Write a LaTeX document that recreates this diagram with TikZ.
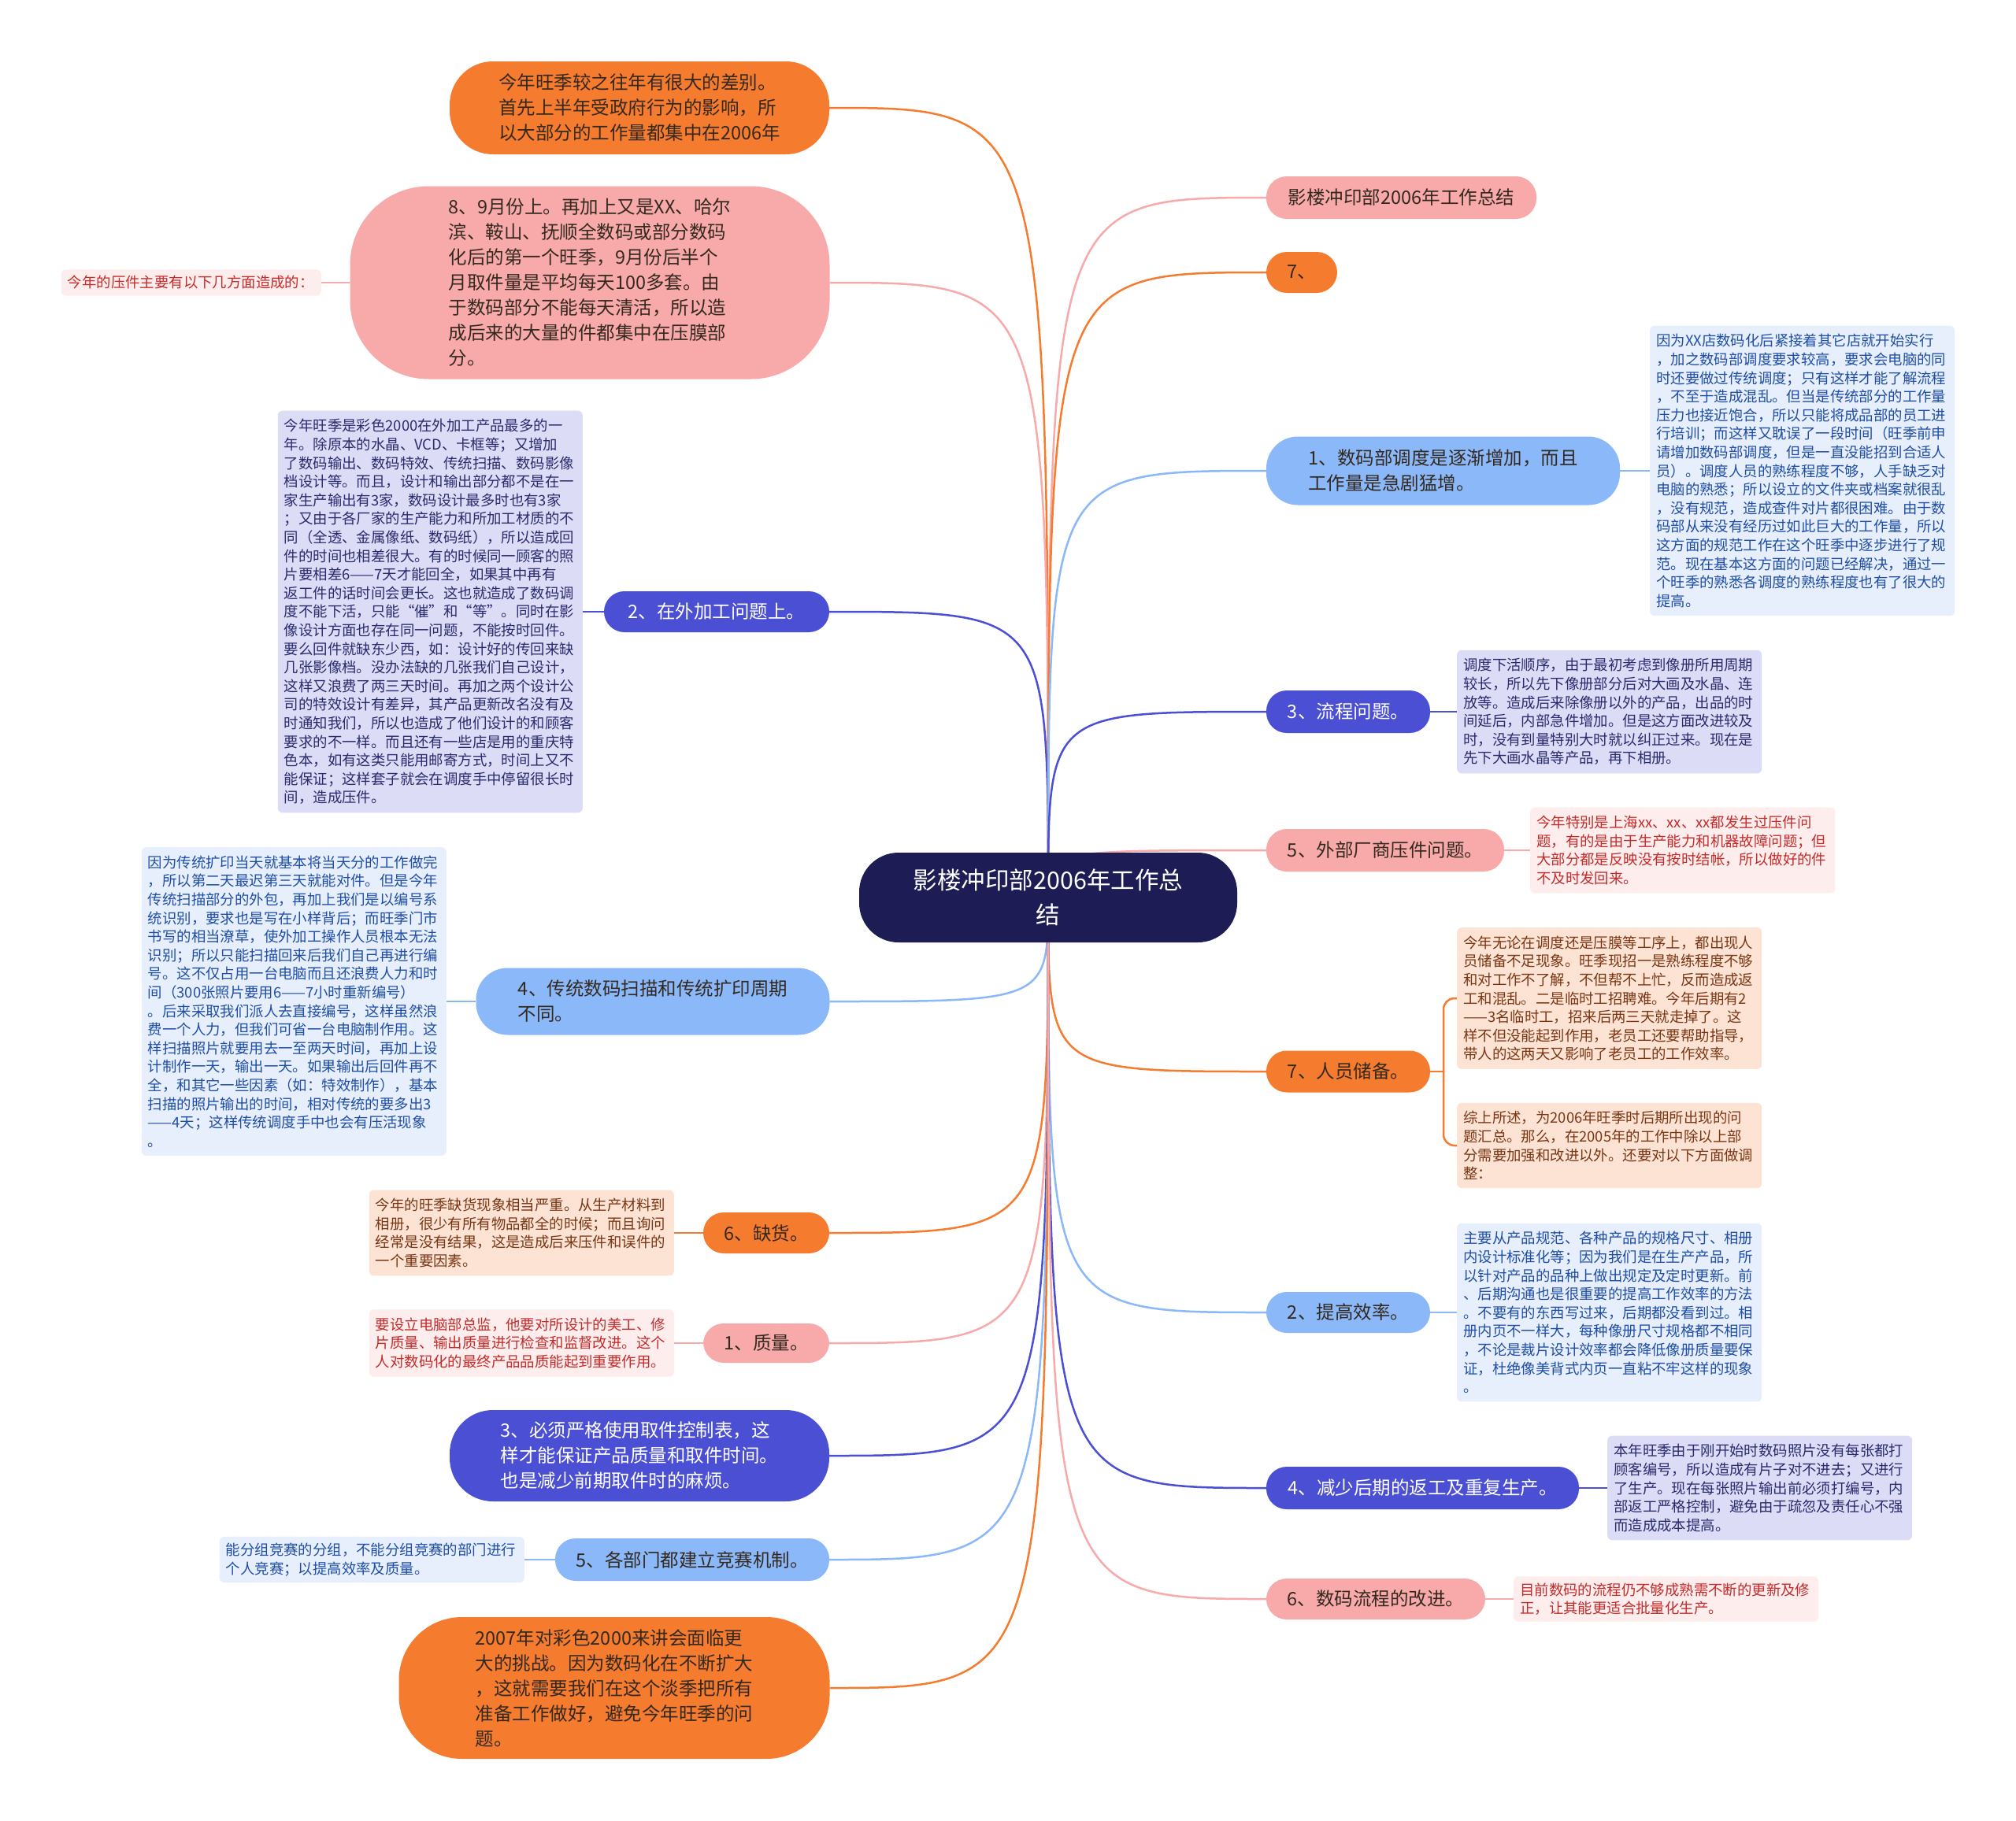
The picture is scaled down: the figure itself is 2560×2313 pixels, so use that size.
\documentclass[tikz,border=0pt]{standalone}
\usepackage{fontspec}
\setmainfont{Noto Sans CJK SC}
\usetikzlibrary{backgrounds}
\definecolor{rootc}{HTML}{1D1C55}
\definecolor{orangec}{HTML}{F57B2E}
\definecolor{pinkc}{HTML}{F8A9A9}
\definecolor{indigoc}{HTML}{4A4FD4}
\definecolor{bluec}{HTML}{8BB8F8}
\definecolor{bluefill}{HTML}{E7EFFD}
\definecolor{bluetext}{HTML}{1F4EA6}
\definecolor{lavfill}{HTML}{DCDCF6}
\definecolor{lavtext}{HTML}{2A2A6E}
\definecolor{peachfill}{HTML}{FDE3D3}
\definecolor{peachtext}{HTML}{7A3614}
\definecolor{rosefill}{HTML}{FDEDEC}
\definecolor{rosetext}{HTML}{C42B2B}
\definecolor{darktext}{HTML}{33291F}
\begin{document}
\begin{tikzpicture}[x=1pt,y=-1pt,
  topic/.style={rounded corners=26pt,inner sep=0pt,align=left,font=\fontsize{23.5}{32}\selectfont},
  otopic/.style={topic,fill=orangec,text=darktext},
  ptopic/.style={topic,fill=pinkc,text=darktext},
  itopic/.style={topic,fill=indigoc,text=white},
  btopic/.style={topic,fill=bluec,text=darktext},
  note/.style={rounded corners=6pt,inner xsep=8pt,inner ysep=10.5pt,text width=371pt,align=left,font=\fontsize{18.4}{23.6}\selectfont},
  bnote/.style={note,fill=bluefill,text=bluetext},
  lnote/.style={note,fill=lavfill,text=lavtext},
  fnote/.style={note,fill=peachfill,text=peachtext},
  rnote/.style={note,fill=rosefill,text=rosetext},
  link/.style={line width=2.5pt},
  olink/.style={link,orangec},
  plink/.style={link,pinkc},
  ilink/.style={link,indigoc},
  blink/.style={link,bluec}]
\useasboundingbox (0,0) rectangle (2560,2313);
% centre
\node[fill=rootc,text=white,rounded corners=50pt,minimum width=480pt,minimum height=114pt,align=center,font=\fontsize{30.5}{44}\selectfont] (root) at (1331,1140) {影楼冲印部2006年工作总\\结};
% left side
\node[otopic,rounded corners=55pt,minimum width=482pt,minimum height=118pt] (l1) at (812,137) {今年旺季较之往年有很大的差别。\\首先上半年受政府行为的影响，所\\以大部分的工作量都集中在2006年};
\node[ptopic,rounded corners=100pt,minimum width=609pt,minimum height=245pt] (l2) at (749,359) {8、9月份上。再加上又是XX、哈尔\\滨、鞍山、抚顺全数码或部分数码\\化后的第一个旺季，9月份后半个\\月取件量是平均每天100多套。由\\于数码部分不能每天清活，所以造\\成后来的大量的件都集中在压膜部\\分。};
\node[rnote,text width=314pt,inner ysep=8pt,anchor=east] (l2n) at (408,359) {今年的压件主要有以下几方面造成的：};
\node[itopic,minimum width=286pt,minimum height=52pt] (l3) at (910,777) {2、在外加工问题上。};
\node[lnote,anchor=east] (l3n) at (740,777) {今年旺季是彩色2000在外加工产品最多的一\\年。除原本的水晶、VCD、卡框等；又增加\\了数码输出、数码特效、传统扫描、数码影像\\档设计等。而且，设计和输出部分都不是在一\\家生产输出有3家，数码设计最多时也有3家\\；又由于各厂家的生产能力和所加工材质的不\\同（全透、金属像纸、数码纸），所以造成回\\件的时间也相差很大。有的时候同一顾客的照\\片要相差6——7天才能回全，如果其中再有\\返工件的话时间会更长。这也就造成了数码调\\度不能下活，只能“催”和“等”。同时在影\\像设计方面也存在同一问题，不能按时回件。\\要么回件就缺东少西，如：设计好的传回来缺\\几张影像档。没办法缺的几张我们自己设计，\\这样又浪费了两三天时间。再加之两个设计公\\司的特效设计有差异，其产品更新改名没有及\\时通知我们，所以也造成了他们设计的和顾客\\要求的不一样。而且还有一些店是用的重庆特\\色本，如有这类只能用邮寄方式，时间上又不\\能保证；这样套子就会在调度手中停留很长时\\间，造成压件。};
\node[btopic,rounded corners=40pt,minimum width=449pt,minimum height=85pt] (l4) at (829,1272) {4、传统数码扫描和传统扩印周期\\不同。};
\node[bnote,anchor=east] (l4n) at (567,1272) {因为传统扩印当天就基本将当天分的工作做完\\，所以第二天最迟第三天就能对件。但是今年\\传统扫描部分的外包，再加上我们是以编号系\\统识别，要求也是写在小样背后；而旺季门市\\书写的相当潦草，使外加工操作人员根本无法\\识别；所以只能扫描回来后我们自己再进行编\\号。这不仅占用一台电脑而且还浪费人力和时\\间（300张照片要用6——7小时重新编号）\\。后来采取我们派人去直接编号，这样虽然浪\\费一个人力，但我们可省一台电脑制作用。这\\样扫描照片就要用去一至两天时间，再加上设\\计制作一天，输出一天。如果输出后回件再不\\全，和其它一些因素（如：特效制作），基本\\扫描的照片输出的时间，相对传统的要多出3\\——4天；这样传统调度手中也会有压活现象\\。};
\node[otopic,minimum width=160pt,minimum height=52pt] (l5) at (973,1566) {6、缺货。};
\node[fnote,anchor=east] (l5n) at (856,1566) {今年的旺季缺货现象相当严重。从生产材料到\\相册，很少有所有物品都全的时候；而且询问\\经常是没有结果，这是造成后来压件和误件的\\一个重要因素。};
\node[ptopic,minimum width=160pt,minimum height=50pt] (l6) at (973,1706) {1、质量。};
\node[rnote,anchor=east] (l6n) at (856,1706) {要设立电脑部总监，他要对所设计的美工、修\\片质量、输出质量进行检查和监督改进。这个\\人对数码化的最终产品品质能起到重要作用。};
\node[itopic,rounded corners=55pt,minimum width=482pt,minimum height=116pt] (l7) at (812,1849) {3、必须严格使用取件控制表，这\\样才能保证产品质量和取件时间。\\也是减少前期取件时的麻烦。};
\node[btopic,minimum width=348pt,minimum height=54pt] (l8) at (879,1981) {5、各部门都建立竞赛机制。};
\node[bnote,anchor=east,inner ysep=8pt] (l8n) at (666,1981) {能分组竞赛的分组，不能分组竞赛的部门进行\\个人竞赛；以提高效率及质量。};
\node[otopic,rounded corners=80pt,minimum width=547pt,minimum height=180pt] (l9) at (780,2144) {2007年对彩色2000来讲会面临更\\大的挑战。因为数码化在不断扩大\\，这就需要我们在这个淡季把所有\\准备工作做好，避免今年旺季的问\\题。};
% right side
\node[ptopic,minimum width=343pt,minimum height=54pt] (r1) at (1779.5,251) {影楼冲印部2006年工作总结};
\node[otopic,minimum width=90pt,minimum height=52pt] (r2) at (1653,346) {7、};
\node[btopic,rounded corners=40pt,minimum width=449pt,minimum height=87pt] (r3) at (1832.5,598) {1、数码部调度是逐渐增加，而且\\工作量是急剧猛增。};
\node[bnote,anchor=west] (r3n) at (2095,598) {因为XX店数码化后紧接着其它店就开始实行\\，加之数码部调度要求较高，要求会电脑的同\\时还要做过传统调度；只有这样才能了解流程\\，不至于造成混乱。但当是传统部分的工作量\\压力也接近饱合，所以只能将成品部的员工进\\行培训；而这样又耽误了一段时间（旺季前申\\请增加数码部调度，但是一直没能招到合适人\\员）。调度人员的熟练程度不够，人手缺乏对\\电脑的熟悉；所以设立的文件夹或档案就很乱\\，没有规范，造成查件对片都很困难。由于数\\码部从来没有经历过如此巨大的工作量，所以\\这方面的规范工作在这个旺季中逐步进行了规\\范。现在基本这方面的问题已经解决，通过一\\个旺季的熟悉各调度的熟练程度也有了很大的\\提高。};
\node[itopic,minimum width=208pt,minimum height=54pt] (r4) at (1712,904) {3、流程问题。};
\node[lnote,anchor=west] (r4n) at (1850,904) {调度下活顺序，由于最初考虑到像册所用周期\\较长，所以先下像册部分后对大画及水晶、连\\放等。造成后来除像册以外的产品，出品的时\\间延后，内部急件增加。但是这方面改进较及\\时，没有到量特别大时就以纠正过来。现在是\\先下大画水晶等产品，再下相册。};
\node[ptopic,minimum width=302pt,minimum height=54pt] (r5) at (1759,1080) {5、外部厂商压件问题。};
\node[rnote,anchor=west] (r5n) at (1943,1080) {今年特别是上海xx、xx、xx都发生过压件问\\题，有的是由于生产能力和机器故障问题；但\\大部分都是反映没有按时结帐，所以做好的件\\不及时发回来。};
\node[otopic,minimum width=208pt,minimum height=53pt] (r6) at (1712,1361) {7、人员储备。};
\node[fnote,anchor=west] (r6a) at (1850,1268) {今年无论在调度还是压膜等工序上，都出现人\\员储备不足现象。旺季现招一是熟练程度不够\\和对工作不了解，不但帮不上忙，反而造成返\\工和混乱。二是临时工招聘难。今年后期有2\\——3名临时工，招来后两三天就走掉了。这\\样不但没能起到作用，老员工还要帮助指导，\\带人的这两天又影响了老员工的工作效率。};
\node[fnote,anchor=west] (r6b) at (1850,1455) {综上所述，为2006年旺季时后期所出现的问\\题汇总。那么，在2005年的工作中除以上部\\分需要加强和改进以外。还要对以下方面做调\\整：};
\node[btopic,minimum width=208pt,minimum height=52pt] (r7) at (1712,1667) {2、提高效率。};
\node[bnote,anchor=west] (r7n) at (1850,1667) {主要从产品规范、各种产品的规格尺寸、相册\\内设计标准化等；因为我们是在生产产品，所\\以针对产品的品种上做出规定及定时更新。前\\、后期沟通也是很重要的提高工作效率的方法\\。不要有的东西写过来，后期都没看到过。相\\册内页不一样大，每种像册尺寸规格都不相同\\，不论是裁片设计效率都会降低像册质量要保\\证，杜绝像美背式内页一直粘不牢这样的现象\\。};
\node[itopic,minimum width=397pt,minimum height=54pt] (r8) at (1806.5,1890) {4、减少后期的返工及重复生产。};
\node[lnote,anchor=west] (r8n) at (2041,1890) {本年旺季由于刚开始时数码照片没有每张都打\\顾客编号，所以造成有片子对不进去；又进行\\了生产。现在每张照片输出前必须打编号，内\\部返工严格控制，避免由于疏忽及责任心不强\\而造成成本提高。};
\node[ptopic,minimum width=278pt,minimum height=52pt] (r9) at (1747,2031) {6、数码流程的改进。};
\node[rnote,anchor=west,inner ysep=8pt] (r9n) at (1922,2031) {目前数码的流程仍不够成熟需不断的更新及修\\正，让其能更适合批量化生产。};
\coordinate (r6k) at (1833,1361);
% connectors
\begin{pgfonlayer}{background}
\fill[white] (0,0) rectangle (2560,2313);
\draw[olink] (root.center) .. controls (root.center |- l1.east) .. (l1.east);
\draw[plink] (root.center) .. controls (root.center |- l2.east) .. (l2.east);
\draw[ilink] (root.center) .. controls (root.center |- l3.east) .. (l3.east);
\draw[blink] (root.center) .. controls (root.center |- l4.east) .. (l4.east);
\draw[olink] (root.center) .. controls (root.center |- l5.east) .. (l5.east);
\draw[plink] (root.center) .. controls (root.center |- l6.east) .. (l6.east);
\draw[ilink] (root.center) .. controls (root.center |- l7.east) .. (l7.east);
\draw[blink] (root.center) .. controls (root.center |- l8.east) .. (l8.east);
\draw[olink] (root.center) .. controls (root.center |- l9.east) .. (l9.east);
\draw[plink] (root.center) .. controls (root.center |- r1.west) .. (r1.west);
\draw[olink] (root.center) .. controls (root.center |- r2.west) .. (r2.west);
\draw[blink] (root.center) .. controls (root.center |- r3.west) .. (r3.west);
\draw[ilink] (root.center) .. controls (root.center |- r4.west) .. (r4.west);
\draw[plink] (root.center) .. controls (root.center |- r5.west) .. (r5.west);
\draw[olink] (root.center) .. controls (root.center |- r6.west) .. (r6.west);
\draw[blink] (root.center) .. controls (root.center |- r7.west) .. (r7.west);
\draw[ilink] (root.center) .. controls (root.center |- r8.west) .. (r8.west);
\draw[plink] (root.center) .. controls (root.center |- r9.west) .. (r9.west);
\draw[plink] (l2.west) -- (l2n.east);
\draw[ilink] (l3.west) -- (l3n.east);
\draw[blink] (l4.west) -- (l4n.east);
\draw[olink] (l5.west) -- (l5n.east);
\draw[plink] (l6.west) -- (l6n.east);
\draw[blink] (l8.west) -- (l8n.east);
\draw[blink] (r3.east) -- (r3n.west);
\draw[ilink] (r4.east) -- (r4n.west);
\draw[plink] (r5.east) -- (r5n.west);
\draw[olink] (r6.east) -- (r6k);
\draw[olink,rounded corners=14pt] (r6k) |- (r6a.west);
\draw[olink,rounded corners=14pt] (r6k) |- (r6b.west);
\draw[blink] (r7.east) -- (r7n.west);
\draw[ilink] (r8.east) -- (r8n.west);
\draw[plink] (r9.east) -- (r9n.west);
\end{pgfonlayer}
\end{tikzpicture}
\end{document}
